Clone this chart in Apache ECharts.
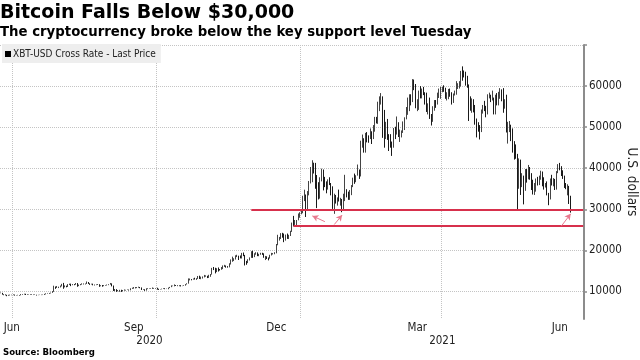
<!DOCTYPE html>
<html><head><meta charset="utf-8">
<script src="https://cdn.jsdelivr.net/npm/echarts@6/dist/echarts.min.js"></script>
<style>html,body{margin:0;padding:0;background:#fff}#c{width:640px;height:360px}</style>
</head><body><div id="c"></div>
<script>
// Daily candles: [open, close, low, high], USD
const jun2020 = [[9680,9630,9580,9720],[9630,9290,9220,9670],[9290,9250,9090,9320],[9250,9160,9060,9280],[9160,9010,8850,9190],[9010,9120,8950,9190],[9120,9190,9030,9230],[9190,9140,9090,9200]];
const jul2020 = [[9140,9230,9100,9290],[9230,9090,8990,9250],[9090,9070,9040,9130],[9070,9130,9050,9190],[9130,9080,8990,9140],[9080,9340,9060,9370],[9340,9250,9210,9360],[9250,9430,9240,9460],[9430,9230,9140,9440],[9230,9290,9140,9310],[9290,9240,9210,9300],[9240,9300,9180,9340],[9300,9240,9200,9340],[9240,9250,9130,9270],[9250,9190,9170,9280],[9190,9130,9010,9210],[9130,9150,9100,9190],[9150,9170,9130,9210],[9170,9210,9110,9230],[9210,9160,9130,9220],[9160,9390,9150,9420],[9390,9530,9290,9550],[9530,9610,9490,9640],[9610,9540,9460,9640],[9540,9700,9520,9730],[9700,9930,9660,10100],[9930,11030,9900,11400],[11030,10930,10640,11210],[10930,11100,10860,11340],[11100,11110,10830,11170],[11110,11350,10980,11450]];
const aug2020 = [[11350,11800,11230,11860],[11800,11070,10660,12090],[11070,11230,11000,11480],[11230,11190,11020,11410],[11190,11750,11100,11790],[11750,11770,11570,11900],[11770,11600,11300,11910],[11600,11760,11530,11800],[11760,11680,11530,11800],[11680,11880,11640,12060],[11880,11410,11150,12050],[11410,11590,11300,11680],[11590,11780,11520,11810],[11780,11770,11680,11950],[11770,11870,11700,11960],[11870,11910,11700,11950],[11910,12280,11830,12440],[12280,11960,11830,12300],[11960,11760,11610,11990],[11760,11870,11700,11890],[11870,11520,11500,11900],[11520,11680,11450,11700],[11680,11650,11550,11700],[11650,11750,11590,11810],[11750,11320,11130,11770],[11320,11470,11270,11520],[11470,11320,11160,11580],[11320,11540,11290,11550],[11540,11500,11450,11580],[11500,11680,11450,11690],[11680,11680,11540,11770]];
const sep2020 = [[11680,11970,11650,12070],[11970,11410,11240,11970],[11410,10240,10130,11450],[10240,10510,10060,10600],[10510,10170,9900,10560],[10170,10280,10030,10350],[10280,10370,9920,10400],[10370,10130,9890,10420],[10130,10240,10060,10350],[10240,10360,10190,10500],[10360,10400,10220,10410],[10400,10440,10350,10480],[10440,10330,10230,10460],[10330,10680,10280,10780],[10680,10790,10630,10930],[10790,10950,10670,11080],[10950,10940,10760,11040],[10940,10930,10820,11030],[10930,11080,10910,11170],[11080,10920,10790,11090],[10920,10420,10360,10980],[10420,10530,10400,10570],[10530,10240,10150,10540],[10240,10740,10210,10780],[10740,10690,10580,10750],[10690,10730,10650,10780],[10730,10770,10640,10800],[10770,10700,10660,10950],[10700,10840,10650,10870],[10840,10780,10700,10840]];
const oct2020 = [[10780,10620,10440,10910],[10620,10570,10380,10660],[10570,10550,10520,10600],[10550,10670,10520,10690],[10670,10790,10620,10800],[10790,10600,10550,10800],[10600,10670,10590,10690],[10670,10920,10540,10950],[10920,11060,10830,11110],[11060,11300,11050,11490],[11300,11380,11280,11430],[11380,11540,11250,11720],[11540,11430,11330,11560],[11430,11430,11290,11540],[11430,11500,11270,11530],[11500,11320,11220,11540],[11320,11370,11300,11400],[11370,11500,11350,11520],[11500,11750,11410,11800],[11750,11920,11700,12000],[11920,12820,11900,13180],[12820,12970,12700,13150],[12970,12930,12720,13020],[12930,13110,12890,13160],[13110,13030,12900,13340],[13030,13070,12820,13240],[13070,13650,13060,13770],[13650,13270,13040,13840],[13270,13460,12990,13620],[13460,13560,13150,13660],[13560,13800,13430,14030]];
const nov2020 = [[13800,13760,13620,13900],[13760,13550,13260,13820],[13550,14030,13300,14060],[14030,14150,13570,14250],[14150,15590,14100,15740],[15590,15580,15210,15960],[15580,14840,14400,15770],[14840,15480,14720,15660],[15480,15330,14850,15840],[15330,15300,15100,15460],[15300,15700,15280,15950],[15700,16280,15440,16340],[16280,16320,15980,16480],[16320,16070,15800,16330],[16070,15960,15800,16160],[15960,16720,15870,16870],[16720,17650,16560,17800],[17650,17800,17230,18480],[17800,17820,17400,18090],[17820,18680,17770,18800],[18680,18690,18370,18940],[18690,18420,17660,18710],[18420,18370,18050,18760],[18370,19160,18020,19400],[19160,18720,18600,19480],[18720,17150,16330,18900],[17150,17140,16500,17450],[17140,17720,16900,17860],[17720,18180,17550,18300],[18180,19630,18180,19800]];
const dec2020 = [[19630,18800,18180,19920],[18800,19200,18360,19310],[19200,19450,18950,19560],[19450,18700,18600,19510],[18700,19150,18590,19170],[19150,19360,18940,19410],[19360,19170,18910,19420],[19170,18320,18200,19290],[18320,18550,17650,18650],[18550,18250,17910,18560],[18250,18030,17570,18280],[18030,18800,18000,18930],[18800,19140,18760,19400],[19140,19250,19000,19340],[19250,19430,19060,19560],[19430,21350,19290,21560],[21350,22800,21250,23800],[22800,23130,22390,23280],[23130,23860,22780,24200],[23860,23480,23090,24280],[23480,22750,22000,24100],[22750,23820,22380,23850],[23820,23240,22800,24100],[23240,23730,22770,23800],[23730,24710,23500,24780],[24710,26440,24500,26770],[26440,26280,25850,28400],[26280,27080,26200,27400],[27080,27360,25900,27400],[27360,28840,27320,28990],[28840,29000,27950,29300]];
const jan2021 = [[29000,29370,28800,29600],[29370,32130,29050,33300],[32130,32780,32000,34780],[32780,31970,28130,33600],[31970,33990,29900,34440],[33990,36820,33400,36900],[36820,39370,36300,40300],[39370,40800,36600,41950],[40800,40250,38720,41350],[40250,38350,35000,41300],[38350,35570,30300,38350],[35570,33920,32400,36600],[33920,37320,32600,37800],[37320,39190,36800,39900],[39190,36830,34600,39700],[36830,36070,35400,37900],[36070,35810,33900,36800],[35810,36630,34800,37300],[36630,36070,35900,37800],[36070,35540,33400,36400],[35540,30830,30100,35600],[30830,33010,28900,33800],[33010,32110,31400,33500],[32110,32290,30900,32900],[32290,32270,31900,34800],[32270,32530,30900,32800],[32530,30430,29300,32530],[30430,33470,30000,33800],[33470,34320,32000,38400],[34320,34290,32900,34900],[34290,33110,32300,34300]];
const feb2021 = [[33110,33540,32300,34700],[33540,35510,33450,35900],[35510,37470,35400,37700],[37470,36930,36200,38700],[36930,38290,36600,38300],[38290,39260,38200,40900],[39260,38900,37400,39700],[38900,46200,38000,46700],[46200,46480,45000,48200],[46480,44920,43800,47300],[44920,47910,43800,48600],[47910,47500,46300,48800],[47500,47190,46200,48000],[47190,48720,47100,49700],[48720,47940,45900,49000],[47940,49200,47100,50500],[49200,52150,48900,52500],[52150,51680,50900,52500],[51680,55890,50800,56200],[55890,55890,53900,57500],[55890,57410,55500,58300],[57410,54090,47400,57500],[54090,48890,45000,54200],[48890,49670,47100,51300],[49670,47010,46900,52000],[47010,46280,44200,48300],[46280,46110,45000,48300],[46110,45140,43000,46500]];
const mar2021 = [[45140,49630,45000,49800],[49630,48380,47100,50100],[48380,50540,48200,52600],[50540,48440,47600,51200],[48440,48860,46400,49400],[48860,48880,47500,49200],[48880,51210,48600,51400],[51210,52380,49300,52400],[52380,54880,51900,54900],[54880,55960,53000,57200],[55960,57770,53900,58000],[57770,57220,55300,58000],[57220,61190,56100,61700],[61190,59120,59000,61600],[59120,55570,54600,60500],[55570,56430,53900,56800],[56430,58800,54200,58900],[58800,58230,57000,60000],[58230,58340,57000,59400],[58340,58110,57800,59800],[58110,57350,55500,58500],[57350,54080,53700,58400],[54080,54340,53100,55800],[54340,52300,52000,57200],[52300,51320,50400,53200],[51320,55030,51300,55100],[55030,55850,54000,56600],[55850,55780,54700,56600],[55780,57630,55500,58400],[57630,58730,57100,59400],[58730,58920,56900,59800]];
const apr2021 = [[58920,59100,58500,59800],[59100,59020,58600,60200],[59020,57050,56900,59600],[57050,58190,56500,58500],[58190,59130,56800,59300],[59130,57990,57400,59400],[57990,55950,55500,58500],[55950,58080,55900,58200],[58080,58090,57700,58900],[58090,59770,57900,61200],[59770,59790,59300,60700],[59790,59990,59400,61200],[59990,63500,59900,63700],[63500,63110,61300,64800],[63110,62950,62100,63800],[62950,61340,60100,63500],[61340,60000,59600,62500],[60000,56150,51500,60400],[56150,55660,54000,57500],[55660,56470,53500,57000],[56470,53810,53600,56800],[53810,51700,50600,55400],[51700,51090,47500,52100],[51090,50050,48900,51200],[50050,49000,47000,50500],[49000,54020,48800,54300],[54020,55030,53300,55400],[55030,54820,53900,56400],[54820,53560,52400,55200],[53560,57750,53100,58000]];
const may2021 = [[57750,57830,57000,58400],[57830,56630,56100,57900],[56630,57200,56500,58900],[57200,53330,53100,57200],[53330,57420,53100,57900],[57420,56400,55300,58300],[56400,57360,55300,58600],[57360,58800,56900,59500],[58800,58230,56300,59200],[58230,55860,53500,59500],[55860,56700,54500,56800],[56700,49150,48700,57900],[49150,49720,46000,51300],[49720,49880,48800,51500],[49880,46760,46600,50600],[46760,46460,43800,49700],[46460,43540,42100,46600],[43540,42910,42300,45800],[42910,36960,30000,43500],[36960,40600,35000,42400],[40600,37300,33500,42100],[37300,37530,35400,38800],[37530,34770,31200,38200],[34770,38710,34500,39800],[38710,38360,36500,39800],[38360,39290,37300,40800],[39290,38440,37200,40300],[38440,35700,34700,38800],[35700,34620,33600,37200],[34620,35680,33500,36400],[35680,37330,34300,37500]];
const jun2021 = [[37330,36690,35800,37900],[36690,37570,35900,38200],[37570,39190,37200,39400],[39190,36860,35600,39200],[36860,35520,34800,37800],[35520,35800,35300,36400],[35800,33570,33400,36800],[33570,33420,31000,34000],[33420,37390,32400,37500],[37390,36690,35800,38400],[36690,37340,35600,37600],[37340,35550,34700,37400],[35550,39100,34800,39300],[39100,40520,38800,41000],[40520,40140,39500,41300],[40140,38350,38100,40500],[38350,38090,37400,39500],[38090,35820,35200,38200],[35820,35480,34900,36400],[35480,35600,33400,36100],[35600,31680,31300,35700],[31680,30200,29200,33300]];

const seriesName = 'XBT-USD Cross Rate - Last Price';
const firstDay = [2020, 5, 23];   // Jun 23, 2020
const dayCount = 373;             // through Jun 30, 2021
const yTickLabels = [10000, 20000, 30000, 40000, 50000, 60000];
const yTicks = [10000, 20000, 30000, 40000, 50000, 60000, 70000];
const monthLabels = {'2020-06-30':'Jun','2020-09-16':'Sep','2020-12-16':'Dec','2021-03-16':'Mar','2021-06-15':'Jun'};
const yearLabels = {'2020-09-26':'2020','2021-04-01':'2021'};
const gridDates = ['2020-07-01','2020-10-01','2021-01-01','2021-04-01'];
const supportLines = [{from:'2020-11-30', to:'2021-06-30', value:30000},{from:'2020-12-27', to:'2021-06-30', value:25900}];
const arrows = [
  {from:['2021-01-16',27000], to:['2021-01-08',28400]},
  {from:['2021-01-22',26300], to:['2021-01-27',28600]},
  {from:['2021-06-16',25900], to:['2021-06-22',28900]}
];

const dates = [];
for (let i = 0; i < dayCount; i++) {
  const d = new Date(Date.UTC(firstDay[0], firstDay[1], firstDay[2] + i));
  dates.push(d.toISOString().slice(0,10));
}
const candles = [].concat(jun2020, jul2020, aug2020, sep2020, oct2020, nov2020, dec2020, jan2021, feb2021, mar2021, apr2021, may2021, jun2021);

const SMALL = '"DejaVu Sans Condensed", "DejaVu Sans", sans-serif';
const markData = [];
supportLines.forEach(s => markData.push([
  {coord:[s.from, s.value], symbol:'none', lineStyle:{color:'#d7304c', width:2, type:'solid'}},
  {coord:[s.to, s.value], symbol:'none'}
]));
arrows.forEach(a => markData.push([
  {coord:a.from, symbol:'none', lineStyle:{color:'#e8798e', width:1, type:'solid'}},
  {coord:a.to, symbol:'arrow', symbolSize:[5,6]}
]));

const chart = echarts.init(document.getElementById('c'), null, {renderer:'canvas'});
chart.setOption({
  animation:false,
  backgroundColor:'#fff',
  title:[
    {text:'Bitcoin Falls Below $30,000', left:0, top:4, padding:0, textStyle:{fontFamily:'"DejaVu Sans", sans-serif', fontWeight:'bold', fontSize:19, color:'#000'}},
    {text:'The cryptocurrency broke below the key support level Tuesday', left:0, top:26, padding:0, textStyle:{fontFamily:'"DejaVu Sans", sans-serif', fontWeight:'bold', fontSize:13.3, color:'#000'}},
    {text:'Source: Bloomberg', left:3, top:348, padding:0, textStyle:{fontFamily:SMALL, fontWeight:'bold', fontSize:9.5, color:'#000'}}
  ],
  legend:{
    left:2, top:44, padding:[5,5,4,3], backgroundColor:'#eeeeee', itemWidth:6, itemHeight:6, itemGap:0,
    textStyle:{fontFamily:SMALL, fontSize:10, color:'#222', padding:[0,0,0,-3]},
    data:[{name:seriesName, icon:'rect', itemStyle:{color:'#000', borderWidth:0}}]
  },
  grid:{left:0, right:56, top:45, bottom:41, containLabel:false, outerBoundsMode:'none'},
  xAxis:{
    type:'category', data:dates, boundaryGap:true,
    axisLine:{show:false}, axisTick:{show:false},
    axisLabel:{
      interval:(i, v) => !!(monthLabels[v] || yearLabels[v]),
      formatter:v => monthLabels[v] ? monthLabels[v] : (yearLabels[v] ? '\n' + yearLabels[v] : ''),
      margin:3, lineHeight:13, fontFamily:SMALL, fontSize:11.5, color:'#222'
    },
    splitLine:{show:true, interval:(i, v) => gridDates.indexOf(v) >= 0, lineStyle:{type:'dotted', color:'#c4c4c4', width:1}}
  },
  yAxis:{
    type:'value', position:'right', min:3300, max:70000, scale:true,
    axisLine:{show:true, lineStyle:{color:'#8c8c8c', width:2}},
    axisTick:{show:true, inside:false, length:3, customValues:yTicks, lineStyle:{color:'#8c8c8c', width:1.5}},
    axisLabel:{customValues:yTickLabels, formatter:v => String(v), margin:5, fontFamily:SMALL, fontSize:11.5, color:'#222'},
    splitLine:{show:true, lineStyle:{type:'dotted', color:'#c4c4c4', width:1}},
    name:'U.S. dollars', nameLocation:'middle', nameRotate:-90, nameGap:40, nameMoveOverlap:false,
    nameTextStyle:{fontFamily:SMALL, fontSize:13.5, color:'#222'}
  },
  series:[{
    type:'candlestick', name:seriesName, data:candles, barWidth:'75%',
    itemStyle:{color:'#9a9a9a', color0:'#1a1a1a', borderColor:'#444', borderColor0:'#1a1a1a', borderWidth:1},
    markLine:{silent:true, animation:false, symbol:['none','none'], label:{show:false}, emphasis:{disabled:true}, data:markData}
  }]
});
</script></body></html>
